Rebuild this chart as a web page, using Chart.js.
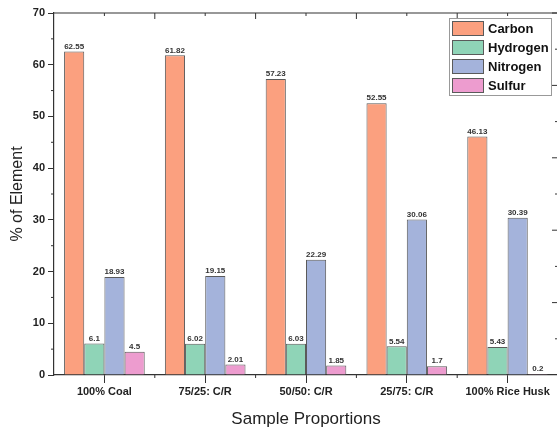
<!DOCTYPE html>
<html>
<head>
<meta charset="utf-8">
<script src="https://cdn.jsdelivr.net/npm/chart.js@4"></script>
<style>
  html, body { margin: 0; padding: 0; background: #fff; overflow: hidden; }
  #wrap { width: 560px; height: 430px; position: relative; }
</style>
</head>
<body>
<div id="wrap"><canvas id="elementChart"></canvas></div>
<script>
const samples = ["100% Coal", "75/25: C/R", "50/50: C/R", "25/75: C/R", "100% Rice Husk"];
const carbon = [62.55, 61.82, 57.23, 52.55, 46.13];
const hydrogen = [6.1, 6.02, 6.03, 5.54, 5.43];
const nitrogen = [18.93, 19.15, 22.29, 30.06, 30.39];
const sulfur = [4.5, 2.01, 1.85, 1.7, 0.2];
const yTicks = [0, 10, 20, 30, 40, 50, 60, 70];

const axisColor = "#333";
const fontFam = "Arial, 'Liberation Sans'";

// value labels over each bar
const barLabels = {
  id: "barLabels",
  afterDatasetsDraw(chart) {
    const ctx = chart.ctx;
    ctx.save();
    ctx.font = "bold 8px " + fontFam;
    ctx.fillStyle = "#333";
    ctx.textAlign = "center";
    ctx.textBaseline = "bottom";
    chart.data.datasets.forEach((ds, i) => {
      chart.getDatasetMeta(i).data.forEach((bar, j) => {
        ctx.fillText(String(ds.data[j]), bar.x, bar.y - 1);
      });
    });
    ctx.restore();
  }
};

// boxed legend in the upper right corner
const boxLegend = {
  id: "boxLegend",
  afterDraw(chart) {
    const ctx = chart.ctx;
    const a = chart.chartArea;
    const left = a.right - 109, top = a.top + 5;
    ctx.save();
    ctx.fillStyle = "#fff";
    ctx.fillRect(left, top, 102, 77);
    ctx.strokeStyle = "#999";
    ctx.lineWidth = 1;
    ctx.strokeRect(left + 0.5, top + 0.5, 102, 77);
    ctx.font = "bold 13px " + fontFam;
    ctx.textBaseline = "middle";
    chart.data.datasets.forEach((ds, i) => {
      const ry = top + 3 + i * 19;
      ctx.fillStyle = ds.backgroundColor;
      ctx.fillRect(left + 3, ry, 32, 15);
      ctx.strokeStyle = "#5a5a5a";
      ctx.strokeRect(left + 3.5, ry + 0.5, 31, 14);
      ctx.fillStyle = "#111";
      ctx.fillText(ds.label, left + 39, ry + 8);
    });
    ctx.restore();
  }
};

// frame + minor ticks, like the origin-style plot
const frame = {
  id: "frame",
  afterDraw(chart) {
    const { ctx, chartArea: a, scales } = chart;
    const x = scales.x, y = scales.y;
    ctx.save();
    ctx.strokeStyle = axisColor;
    ctx.lineWidth = 1.2;
    ctx.beginPath();
    ctx.moveTo(a.left, a.top); ctx.lineTo(a.right, a.top);
    ctx.moveTo(a.right, a.top); ctx.lineTo(a.right, a.bottom);
    ctx.stroke();
    ctx.lineWidth = 1;
    ctx.beginPath();
    // left minor ticks at 5s
    for (let v = 5; v < 70; v += 10) {
      const py = y.getPixelForValue(v);
      ctx.moveTo(a.left - 3, py); ctx.lineTo(a.left, py);
    }
    // bottom minor + top ticks
    const step = x.getPixelForValue(1) - x.getPixelForValue(0);
    for (let i = 0; i < samples.length; i++) {
      const cx = x.getPixelForValue(i);
      ctx.moveTo(cx, a.top); ctx.lineTo(cx, a.top + 3);
      if (i > 0) {
        const bx = cx - step / 2;
        ctx.moveTo(bx, a.bottom); ctx.lineTo(bx, a.bottom + 3);
        ctx.moveTo(bx, a.top); ctx.lineTo(bx, a.top + 6);
      }
    }
    // right axis ticks pointing inward
    const h = a.bottom - a.top;
    for (let k = 1; k <= 10; k++) {
      const py = a.bottom - h * k / 10;
      const len = k % 2 === 0 ? 6 : 3;
      ctx.moveTo(a.right - len, py); ctx.lineTo(a.right, py);
    }
    ctx.stroke();
    ctx.restore();
  }
};

function bars(label, data, color) {
  return {
    label: label,
    data: data,
    backgroundColor: color,
    borderColor: "#5a5a5a",
    borderWidth: 1,
    categoryPercentage: 0.8,
    barPercentage: 1.0
  };
}

new Chart(document.getElementById("elementChart"), {
  type: "bar",
  data: {
    labels: samples,
    datasets: [
      bars("Carbon", carbon, "#fba07f"),
      bars("Hydrogen", hydrogen, "#8fd4b7"),
      bars("Nitrogen", nitrogen, "#a4b3db"),
      bars("Sulfur", sulfur, "#ed9ccf")
    ]
  },
  options: {
    responsive: true,
    maintainAspectRatio: false,
    animation: false,
    layout: { padding: { left: 2, right: 2, top: 13, bottom: 0 } },
    plugins: {
      tooltip: { enabled: false },
      legend: { display: false }
    },
    scales: {
      x: {
        grid: { display: true, drawOnChartArea: false, offset: false, tickLength: 8, color: axisColor },
        border: { color: axisColor, width: 1.2 },
        ticks: {
          color: "#222",
          padding: 2,
          font: { family: fontFam, size: 11, weight: "bold" }
        },
        title: {
          display: true,
          text: "Sample Proportions",
          color: "#222",
          padding: { top: 6, bottom: 0 },
          font: { family: fontFam, size: 17 }
        },
        afterFit(s) { s.height = 55; }
      },
      y: {
        min: 0,
        max: 70,
        afterBuildTicks(s) { s.ticks = yTicks.map(v => ({ value: v })); },
        grid: { display: true, drawOnChartArea: false, tickLength: 6, color: axisColor },
        border: { color: axisColor, width: 1.2 },
        ticks: {
          color: "#222",
          padding: 3,
          font: { family: fontFam, size: 11, weight: "bold" }
        },
        title: {
          display: true,
          text: "% of Element",
          color: "#222",
          padding: { top: 6, bottom: 0 },
          font: { family: fontFam, size: 16 }
        },
        afterFit(s) { s.width = 52; }
      }
    }
  },
  plugins: [barLabels, frame, boxLegend]
});
</script>
</body>
</html>
